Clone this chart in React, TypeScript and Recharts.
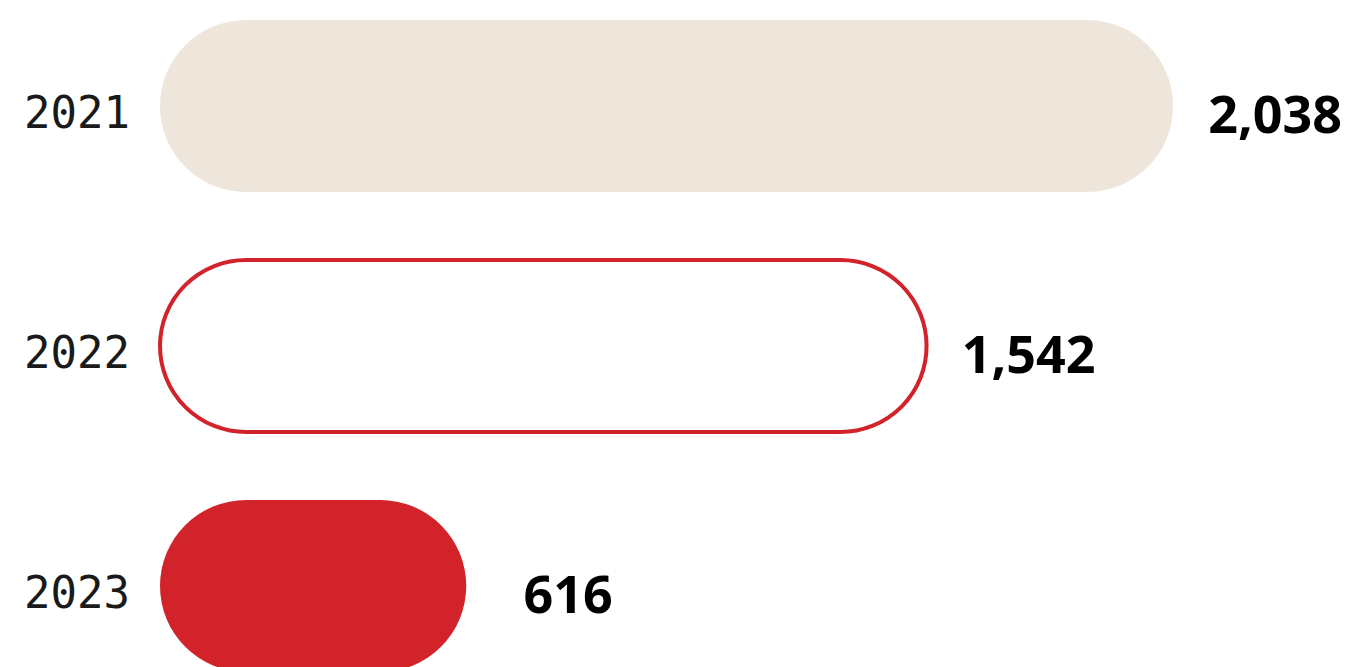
import React from 'react'
import { BarChart, Bar, XAxis, YAxis, Cell, LabelList } from 'recharts'

const years = ['2021', '2022', '2023']
const counts = [2038, 1542, 616]
const fills = ['#efe6db', '#ffffff', '#d2232a']
const strokes = ['none', '#d2232a', 'none']

const data = years.map((year, i) => ({ year, count: counts[i] }))

const fmt = (v: number) => v.toLocaleString('en-US')

function ValueLabel(props: any) {
  const { x, y, width, height, value } = props
  return (
    <text
      x={x + width + 102}
      y={y + height / 2 + 27}
      textAnchor="middle"
      fill="#000"
      style={{ fontFamily: '"Open Sans", sans-serif', fontWeight: 700, fontSize: 52 }}
    >
      {fmt(value)}
    </text>
  )
}

function YearTick(props: any) {
  const { x, y, payload } = props
  return (
    <text
      x={x}
      y={y + 22}
      textAnchor="end"
      fill="#1a1a1a"
      style={{ fontFamily: '"DejaVu Sans Mono", monospace', fontWeight: 300, fontSize: 44 }}
    >
      {payload.value}
    </text>
  )
}

export default function App() {
  return (
    <div style={{ marginTop: -22, marginLeft: -8, width: 1367, height: 720 }}>
      <BarChart
        width={1367}
        height={720}
        data={data}
        layout="vertical"
        margin={{ top: 0, right: 0, bottom: 0, left: 0 }}
        barCategoryGap={68}
      >
        <XAxis type="number" hide domain={[0, 2428]} />
        <YAxis
          type="category"
          dataKey="year"
          width={160}
          axisLine={false}
          tickLine={false}
          tickSize={0}
          tickMargin={30}
          tick={<YearTick />}
        />
        <Bar dataKey="count" barSize={172} radius={86} isAnimationActive={false}>
          {data.map((d, i) => (
            <Cell
              key={d.year}
              fill={fills[i]}
              stroke={strokes[i]}
              strokeWidth={i === 1 ? 4 : 0}
            />
          ))}
          <LabelList dataKey="count" content={<ValueLabel />} />
        </Bar>
      </BarChart>
    </div>
  )
}
